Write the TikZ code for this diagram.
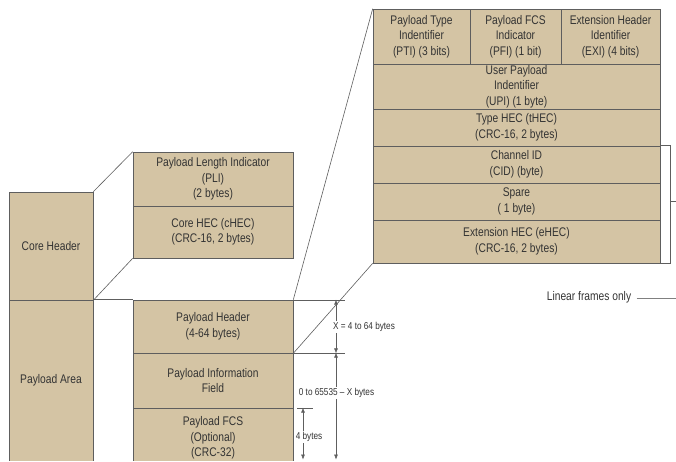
\documentclass[tikz,border=0pt]{standalone}
\usepackage{fontspec}
\usetikzlibrary{arrows.meta}
\setmainfont{Liberation Sans}[FakeStretch=0.82]

\definecolor{fieldtan}{HTML}{D4C4A4}
\definecolor{edgegray}{HTML}{5E5E5E}
\definecolor{textgray}{HTML}{333333}

\begin{document}
\begin{tikzpicture}[
    x=1pt, y=-1pt,
    field/.style={
        rectangle,
        draw=edgegray,
        fill=fieldtan,
        line width=0.6pt,
        align=center,
        inner sep=0pt,
        text=textgray,
        font=\fontsize{12.5}{15.5}\selectfont
    },
    link/.style={draw=edgegray, line width=0.6pt},
    dim/.style={{Latex[length=5pt,width=4pt]}-{Latex[length=5pt,width=4pt]}, draw=edgegray, line width=0.5pt},
    dimlabel/.style={fill=white, inner sep=1pt, text=textgray, font=\fontsize{10}{11}\selectfont}
]
\useasboundingbox (0,0) rectangle (676,461);
\clip (0,0) rectangle (676,460.6);

% frame on the left
\node[field, minimum width=84pt, minimum height=108pt] (corehdr) at (51,246) {Core Header};
\node[field, minimum width=84pt, minimum height=161pt] (payarea) at (51,380.5) {Payload Area};

% core header fields
\node[field, minimum width=160pt, minimum height=54pt] (pli) at (213,179) {Payload Length Indicator\\(PLI)\\(2 bytes)};
\node[field, minimum width=160pt, minimum height=52pt] (chec) at (213,232) {Core HEC (cHEC)\\(CRC-16, 2 bytes)};

% payload area fields
\node[field, minimum width=160pt, minimum height=53pt] (payhdr) at (213,326.5) {Payload Header\\(4-64 bytes)};
\node[field, minimum width=160pt, minimum height=55pt] (payinfo) at (213,380.5) {Payload Information\\Field};
\node[field, minimum width=160pt, minimum height=60pt] (payfcs) at (213,438) {Payload FCS\\(Optional)\\(CRC-32)};

% payload header fields
\node[field, minimum width=97pt, minimum height=55pt] (pti) at (421.5,36.5) {Payload Type\\Indentifier\\(PTI) (3 bits)};
\node[field, minimum width=91pt, minimum height=55pt] (pfi) at (515.5,36.5) {Payload FCS\\Indicator\\(PFI) (1 bit)};
\node[field, minimum width=99pt, minimum height=55pt] (exi) at (610.5,36.5) {Extension Header\\Identifier\\(EXI) (4 bits)};
\node[field, minimum width=287pt, minimum height=45pt] (upi) at (516.5,86.5) {User Payload\\Indentifier\\(UPI) (1 byte)};
\node[field, minimum width=287pt, minimum height=37pt] (thec) at (516.5,127.5) {Type HEC (tHEC)\\(CRC-16, 2 bytes)};
\node[field, minimum width=287pt, minimum height=37pt] (cid) at (516.5,164.5) {Channel ID\\(CID) (byte)};
\node[field, minimum width=287pt, minimum height=37pt] (spare) at (516.5,201.5) {Spare\\( 1 byte)};
\node[field, minimum width=287pt, minimum height=43pt] (ehec) at (516.5,241.5) {Extension HEC (eHEC)\\(CRC-16, 2 bytes)};

% expansion lines
\draw[link] (corehdr.north east) -- (pli.north west);
\draw[link] (corehdr.south east) -- (chec.south west);
\draw[link] (payarea.north east) -- (payhdr.north west);
\draw[link] (payhdr.north east) -- (pti.north west);
\draw[link] (payhdr.south east) -- (ehec.south west);

% bracket for linear frames
\coordinate (brk) at (670,0);
\draw[link] (cid.north east) -- (cid.north east -| brk) -- (ehec.south east -| brk) -- (ehec.south east);
\draw[link] (brk |- spare.east) -- ++(8,0);

\node[text=textgray, font=\fontsize{12.5}{14}\selectfont] (linear) at (589,297) {Linear frames only};
\coordinate (linend) at (678,298);
\draw[link, draw=gray] (linear.east) ++(2,1) -- (linend);

% dimensions
\coordinate (dimx) at (336,0);
\coordinate (fcsx) at (303,0);
\coordinate (bot) at (0,459.5);
\draw[link, line width=0.4pt] (payhdr.north east) -- ++(52,0);
\draw[link, line width=0.4pt] (payhdr.south east) -- ++(52,0);
\draw[link, line width=0.4pt] (payfcs.north east) ++(4,0) -- ++(16,0);
\draw[dim] (payhdr.north east -| dimx) -- (payhdr.south east -| dimx);
\draw[dim] (payinfo.north east -| dimx) -- (dimx |- bot);
\draw[dim] (payfcs.north east -| fcsx) -- (fcsx |- bot);

\node[dimlabel] (xlbl) at (364,327) {X = 4 to 64 bytes};
\node[dimlabel] (rangelbl) at (336.5,393) {0 to 65535 -- X bytes};
\node[dimlabel] (fcslbl) at (309,437) {4 bytes};

\end{tikzpicture}
\end{document}
